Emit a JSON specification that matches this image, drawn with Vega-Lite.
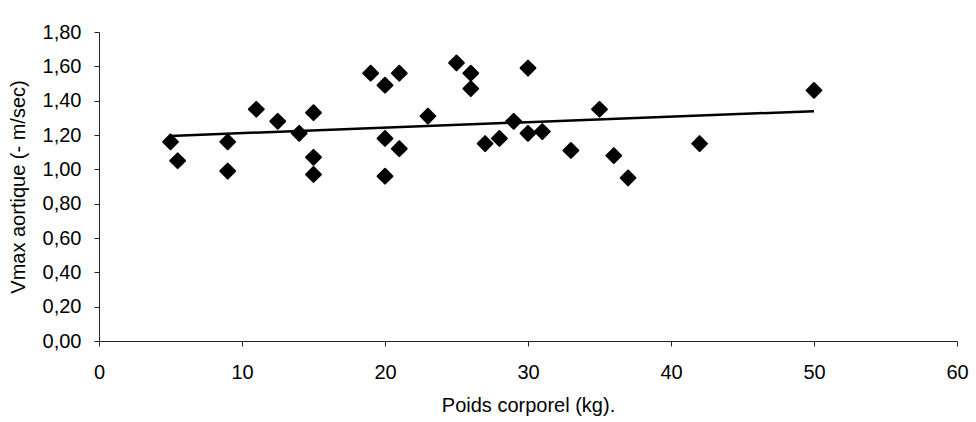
{
  "$schema": "https://vega.github.io/schema/vega-lite/v6.json",
  "width": 858,
  "height": 309,
  "autosize": {"type": "none"},
  "padding": {"left": 99, "top": 32, "right": 19, "bottom": 81},
  "background": "white",
  "config": {
    "view": {"stroke": null},
    "font": "Liberation Sans",
    "axis": {
      "grid": false,
      "domainColor": "#222222",
      "tickColor": "#222222",
      "labelColor": "#000000",
      "titleColor": "#000000",
      "labelFont": "Liberation Sans",
      "titleFont": "Liberation Sans",
      "labelFontSize": 20,
      "titleFontSize": 20,
      "titleFontWeight": "normal",
      "tickSize": 5,
      "labelOverlap": false,
      "labelFlush": false,
      "labelBound": false
    }
  },
  "datasets": {
    "points": [
      {"poids": 5, "vmax": 1.16},
      {"poids": 5.5, "vmax": 1.05},
      {"poids": 9, "vmax": 1.16},
      {"poids": 9, "vmax": 0.99},
      {"poids": 11, "vmax": 1.35},
      {"poids": 12.5, "vmax": 1.28},
      {"poids": 14, "vmax": 1.21},
      {"poids": 15, "vmax": 1.33},
      {"poids": 15, "vmax": 1.07},
      {"poids": 15, "vmax": 0.97},
      {"poids": 19, "vmax": 1.56},
      {"poids": 20, "vmax": 1.49},
      {"poids": 20, "vmax": 1.18},
      {"poids": 20, "vmax": 0.96},
      {"poids": 21, "vmax": 1.56},
      {"poids": 21, "vmax": 1.12},
      {"poids": 23, "vmax": 1.31},
      {"poids": 25, "vmax": 1.62},
      {"poids": 26, "vmax": 1.56},
      {"poids": 26, "vmax": 1.47},
      {"poids": 27, "vmax": 1.15},
      {"poids": 28, "vmax": 1.18},
      {"poids": 29, "vmax": 1.28},
      {"poids": 30, "vmax": 1.59},
      {"poids": 30, "vmax": 1.21},
      {"poids": 31, "vmax": 1.22},
      {"poids": 33, "vmax": 1.11},
      {"poids": 35, "vmax": 1.35},
      {"poids": 36, "vmax": 1.08},
      {"poids": 37, "vmax": 0.95},
      {"poids": 42, "vmax": 1.15},
      {"poids": 50, "vmax": 1.46}
    ],
    "trend": [
      {"poids": 5, "vmax": 1.1948},
      {"poids": 50, "vmax": 1.3388}
    ],
    "annot": [
      {"line1": "y = 0,0032x + 1,1788", "line2": "R² = 0,0289"}
    ]
  },
  "encoding": {
    "x": {
      "field": "poids",
      "type": "quantitative",
      "scale": {"domain": [0, 60], "nice": false},
      "axis": {
        "values": [0, 10, 20, 30, 40, 50, 60],
        "title": "Poids corporel (kg).",
        "labelPadding": 16,
        "titlePadding": 13,
        "labelOverlap": false
      }
    },
    "y": {
      "field": "vmax",
      "type": "quantitative",
      "scale": {"domain": [0, 1.8], "nice": false},
      "axis": {
        "values": [0, 0.2, 0.4, 0.6, 0.8, 1, 1.2, 1.4, 1.6, 1.8],
        "labelExpr": "replace(format(datum.value, '.2f'), '.', ',')",
        "title": "Vmax aortique (- m/sec)",
        "labelPadding": 13,
        "titlePadding": 14,
        "labelOverlap": false
      }
    }
  },
  "layer": [
    {
      "data": {"name": "trend"},
      "mark": {"type": "line", "color": "#000000", "strokeWidth": 2.5}
    },
    {
      "data": {"name": "points"},
      "mark": {
        "type": "point",
        "shape": "diamond",
        "filled": true,
        "color": "#000000",
        "stroke": "#000000",
        "strokeWidth": 2,
        "strokeJoin": "round",
        "size": 220,
        "opacity": 1
      }
    },
    {
      "data": {"name": "annot"},
      "mark": {"type": "text", "align": "center", "baseline": "middle", "fontSize": 20, "color": "#000000", "clip": false},
      "encoding": {
        "x": {"datum": 54.2, "type": "quantitative"},
        "y": {"datum": 1.87, "type": "quantitative"},
        "text": {"field": "line1"}
      }
    },
    {
      "data": {"name": "annot"},
      "mark": {"type": "text", "align": "center", "baseline": "middle", "fontSize": 20, "color": "#000000", "clip": false},
      "encoding": {
        "x": {"datum": 54.2, "type": "quantitative"},
        "y": {"datum": 1.695, "type": "quantitative"},
        "text": {"field": "line2"}
      }
    }
  ]
}
